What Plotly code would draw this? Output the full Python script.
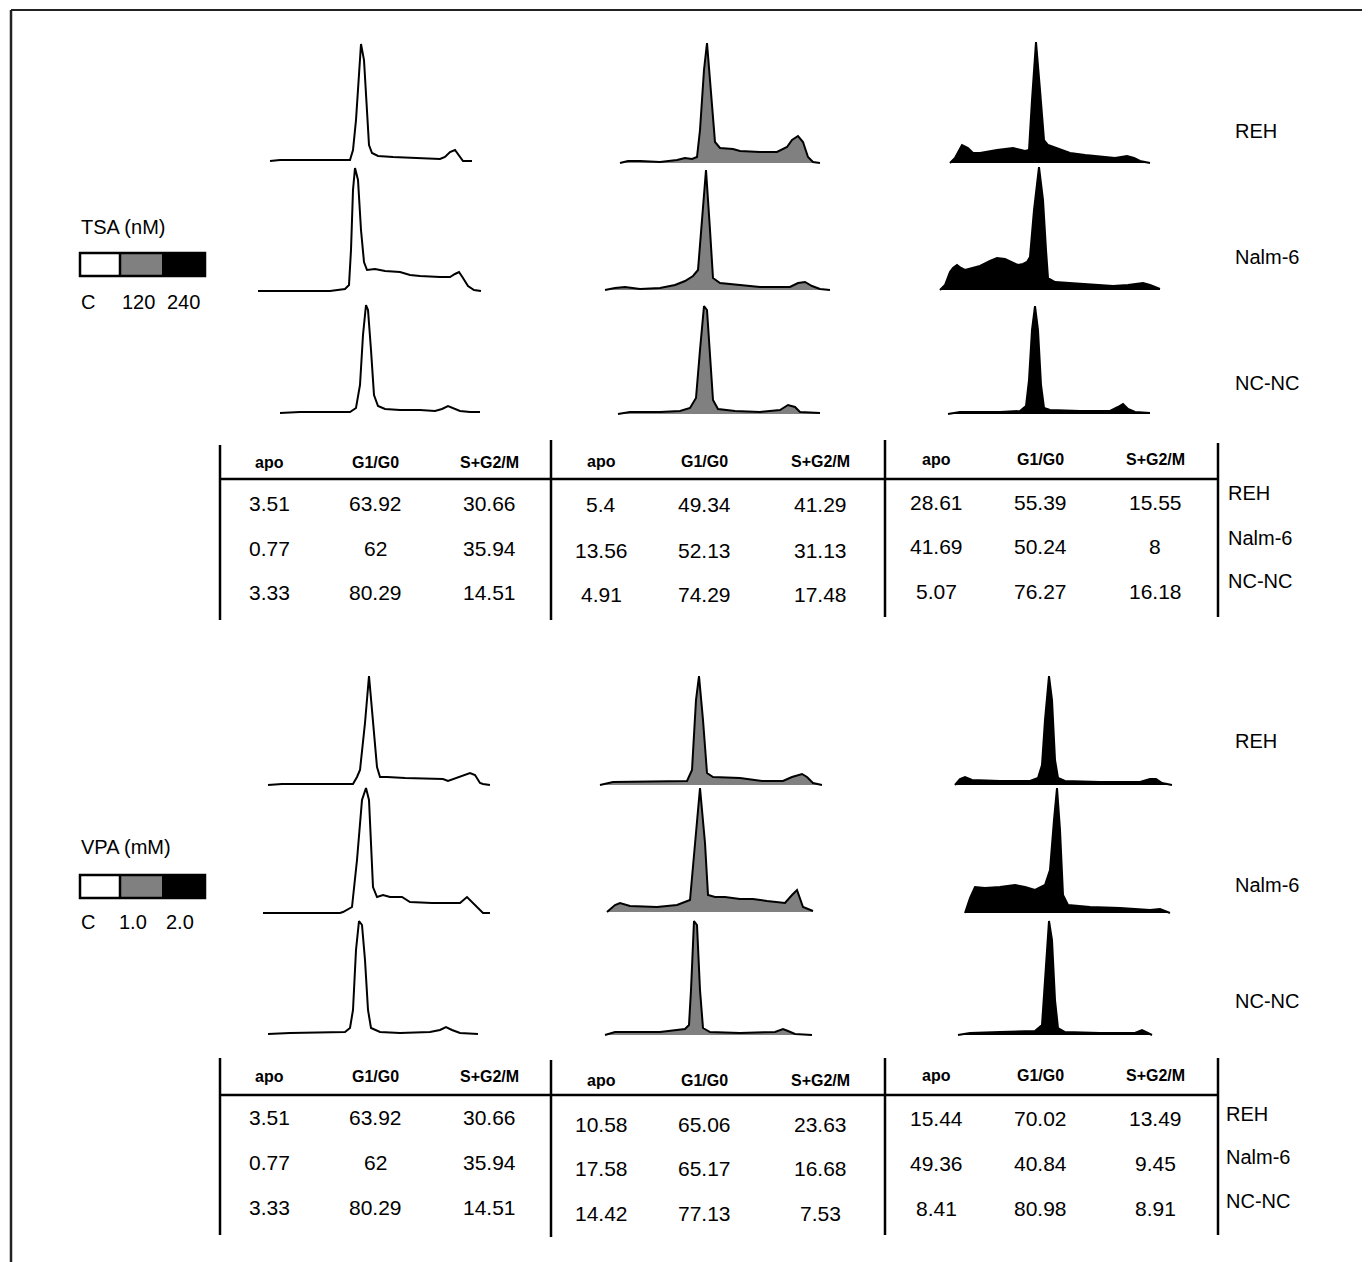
import plotly.graph_objects as go

# page body adds an 8px margin; the figure is sized/offset to fill the 1370x1262 window exactly
OFF = 8
W, H = 1370 - OFF, 1262 - OFF

# ---------------- DATA ----------------
# Flow-cytometry DNA histograms: channel offset (arbitrary units) and relative cell count
# TSA, REH
TSA_REH_C_X = [0, 10, 80, 83, 86, 89, 91, 94, 97, 99, 102, 108, 123, 160, 170, 175, 180, 185, 189, 193, 202]
TSA_REH_C_Y = [0, 1, 1, 11, 41, 91, 117, 101, 41, 16, 8, 5, 4, 3, 2, 4, 9, 11, 6, 0, 0]
TSA_REH_120_X = [0, 8, 20, 40, 57, 65, 72, 77, 80, 84, 87, 91, 95, 100, 113, 120, 140, 157, 167, 172, 178, 183, 188, 193, 200]
TSA_REH_120_Y = [0, 2, 2, 1, 3, 5, 4, 6, 33, 93, 120, 73, 21, 15, 14, 12, 11, 11, 16, 23, 27, 21, 6, 1, 0]
TSA_REH_240_X = [0, 5, 12, 18, 23, 30, 47, 63, 75, 79, 82, 86, 90, 94, 98, 107, 120, 135, 153, 165, 177, 184, 190, 200]
TSA_REH_240_Y = [0, 5, 18, 15, 10, 10, 13, 15, 12, 13, 63, 121, 73, 23, 18, 15, 10, 8, 6, 5, 7, 5, 2, 0]
# TSA, Nalm-6
TSA_NALM_C_X = [0, 72, 87, 91, 93, 95, 97, 100, 103, 106, 109, 117, 127, 142, 152, 162, 182, 192, 197, 201, 205, 210, 216, 223]
TSA_NALM_C_Y = [0, 0, 2, 6, 41, 101, 123, 111, 61, 29, 21, 22, 20, 19, 16, 15, 14, 14, 17, 19, 13, 5, 1, 0]
TSA_NALM_120_X = [0, 10, 20, 35, 55, 70, 80, 88, 93, 97, 101, 105, 108, 115, 135, 155, 185, 193, 200, 207, 215, 225]
TSA_NALM_120_Y = [0, 2, 3, 1, 2, 5, 9, 14, 20, 70, 120, 60, 12, 7, 5, 3, 3, 7, 8, 4, 1, 0]
TSA_NALM_240_X = [0, 5, 10, 13, 17, 21, 25, 32, 40, 50, 57, 65, 72, 78, 83, 87, 90, 94, 99, 103, 106, 108, 115, 130, 145, 157, 173, 188, 203, 210, 220]
TSA_NALM_240_Y = [0, 5, 18, 22, 25, 22, 20, 22, 24, 29, 32, 31, 28, 25, 26, 28, 33, 80, 123, 90, 40, 12, 8, 7, 6, 5, 4, 5, 7, 5, 1]
# TSA, NC-NC
TSA_NCNC_C_X = [0, 20, 70, 76, 80, 83, 86, 88, 91, 94, 98, 105, 120, 140, 155, 162, 168, 173, 180, 190, 200]
TSA_NCNC_C_Y = [0, 1, 1, 5, 28, 78, 108, 103, 63, 18, 7, 4, 3, 3, 2, 4, 7, 5, 2, 1, 1]
TSA_NCNC_120_X = [0, 12, 42, 62, 72, 78, 82, 86, 89, 92, 95, 100, 117, 142, 162, 170, 177, 182, 202]
TSA_NCNC_120_Y = [0, 2, 2, 3, 6, 16, 64, 108, 104, 54, 14, 5, 3, 2, 4, 9, 7, 2, 1]
TSA_NCNC_240_X = [0, 12, 52, 72, 78, 81, 84, 87, 90, 93, 96, 102, 132, 162, 170, 175, 180, 187, 202]
TSA_NCNC_240_Y = [0, 2, 2, 3, 8, 34, 84, 108, 84, 29, 6, 4, 3, 3, 7, 10, 5, 2, 1]
# VPA, REH
VPA_REH_C_X = [0, 14, 85, 89, 92, 97, 101, 105, 109, 112, 119, 137, 175, 180, 190, 202, 207, 212, 215, 222]
VPA_REH_C_Y = [0, 1, 1, 8, 15, 62, 109, 62, 18, 8, 8, 7, 6, 4, 8, 12, 10, 2, 1, 0]
VPA_REH_1_X = [0, 13, 87, 92, 96, 99, 103, 107, 113, 140, 162, 183, 192, 202, 207, 213, 222]
VPA_REH_1_Y = [0, 3, 4, 15, 85, 109, 65, 12, 8, 7, 4, 4, 8, 11, 8, 2, 0]
VPA_REH_2_X = [0, 5, 10, 17, 45, 75, 83, 87, 90, 94, 97, 100, 103, 110, 145, 185, 195, 201, 207, 217]
VPA_REH_2_Y = [0, 6, 8, 5, 4, 4, 7, 20, 65, 109, 85, 25, 7, 4, 3, 3, 6, 6, 2, 0]
# VPA, Nalm-6
VPA_NALM_C_X = [0, 77, 80, 89, 94, 99, 103, 106, 110, 114, 120, 127, 139, 147, 169, 197, 204, 209, 214, 220, 227]
VPA_NALM_C_Y = [0, 0, 1, 6, 53, 113, 125, 113, 26, 16, 18, 16, 16, 11, 10, 10, 16, 11, 5, 0, 0]
VPA_NALM_1_X = [0, 8, 13, 23, 50, 70, 83, 88, 93, 98, 101, 108, 118, 133, 146, 160, 178, 185, 190, 196, 206]
VPA_NALM_1_Y = [0, 7, 9, 6, 5, 7, 12, 69, 124, 69, 17, 15, 15, 13, 13, 11, 9, 17, 22, 5, 1]
VPA_NALM_2_X = [0, 5, 10, 20, 35, 50, 60, 70, 80, 85, 89, 92, 95, 98, 103, 125, 155, 185, 195, 205]
VPA_NALM_2_Y = [0, 15, 26, 25, 26, 28, 26, 23, 28, 43, 93, 125, 83, 18, 8, 6, 5, 3, 4, 0]
# VPA, NC-NC
VPA_NCNC_C_X = [0, 22, 77, 82, 85, 88, 91, 94, 97, 100, 103, 112, 132, 162, 172, 178, 184, 192, 210]
VPA_NCNC_C_Y = [0, 1, 2, 6, 24, 84, 113, 109, 74, 24, 6, 2, 1, 2, 4, 7, 4, 1, 0]
VPA_NCNC_1_X = [0, 10, 55, 80, 84, 86, 89, 92, 95, 98, 105, 135, 170, 178, 183, 190, 207]
VPA_NCNC_1_Y = [0, 3, 3, 6, 10, 45, 114, 110, 45, 7, 3, 2, 3, 6, 4, 1, 0]
VPA_NCNC_2_X = [0, 12, 42, 77, 84, 87, 91, 94, 97, 100, 107, 142, 177, 184, 188, 194]
VPA_NCNC_2_Y = [0, 2, 3, 4, 10, 55, 114, 95, 35, 7, 3, 2, 2, 5, 3, 0]

CELL_LINES = ["REH", "Nalm-6", "NC-NC"]
PHASES = ["apo", "G1/G0", "S+G2/M"]
TSA_DOSES = ["C", "120", "240"]
VPA_DOSES = ["C", "1.0", "2.0"]

# cell-cycle percentages (rows: REH, Nalm-6, NC-NC; cols: apo, G1/G0, S+G2/M)
TSA_C_PCT = [["3.51", "63.92", "30.66"], ["0.77", "62", "35.94"], ["3.33", "80.29", "14.51"]]
TSA_120_PCT = [["5.4", "49.34", "41.29"], ["13.56", "52.13", "31.13"], ["4.91", "74.29", "17.48"]]
TSA_240_PCT = [["28.61", "55.39", "15.55"], ["41.69", "50.24", "8"], ["5.07", "76.27", "16.18"]]
VPA_C_PCT = [["3.51", "63.92", "30.66"], ["0.77", "62", "35.94"], ["3.33", "80.29", "14.51"]]
VPA_1_PCT = [["10.58", "65.06", "23.63"], ["17.58", "65.17", "16.68"], ["14.42", "77.13", "7.53"]]
VPA_2_PCT = [["15.44", "70.02", "13.49"], ["49.36", "40.84", "9.45"], ["8.41", "80.98", "8.91"]]

# ---------------- LAYOUT ----------------
FONT = "Liberation Sans, Arial, sans-serif"
GRAY = "#808080"


def fx(x):
    return (x - OFF) / W


def fy(y):
    return 1 - (y - OFF) / H


# (x data, y data, fill, left px, baseline px)
panels = [
    (TSA_REH_C_X, TSA_REH_C_Y, None, 270, 161),
    (TSA_REH_120_X, TSA_REH_120_Y, GRAY, 620, 163),
    (TSA_REH_240_X, TSA_REH_240_Y, "#000000", 950, 163),
    (TSA_NALM_C_X, TSA_NALM_C_Y, None, 258, 291),
    (TSA_NALM_120_X, TSA_NALM_120_Y, GRAY, 605, 290),
    (TSA_NALM_240_X, TSA_NALM_240_Y, "#000000", 940, 290),
    (TSA_NCNC_C_X, TSA_NCNC_C_Y, None, 280, 413),
    (TSA_NCNC_120_X, TSA_NCNC_120_Y, GRAY, 618, 414),
    (TSA_NCNC_240_X, TSA_NCNC_240_Y, "#000000", 948, 414),
    (VPA_REH_C_X, VPA_REH_C_Y, None, 268, 785),
    (VPA_REH_1_X, VPA_REH_1_Y, GRAY, 600, 785),
    (VPA_REH_2_X, VPA_REH_2_Y, "#000000", 955, 785),
    (VPA_NALM_C_X, VPA_NALM_C_Y, None, 263, 913),
    (VPA_NALM_1_X, VPA_NALM_1_Y, GRAY, 607, 912),
    (VPA_NALM_2_X, VPA_NALM_2_Y, "#000000", 965, 913),
    (VPA_NCNC_C_X, VPA_NCNC_C_Y, None, 268, 1034),
    (VPA_NCNC_1_X, VPA_NCNC_1_Y, GRAY, 605, 1035),
    (VPA_NCNC_2_X, VPA_NCNC_2_Y, "#000000", 958, 1035),
]

fig = go.Figure()
layout_axes = {}
PAD = 3
for i, (xs, ys, fillc, L, B) in enumerate(panels):
    n = "" if i == 0 else str(i + 1)
    mx, my = max(xs), max(ys)
    layout_axes["xaxis" + n] = dict(domain=[fx(L - PAD), fx(L + mx + PAD)], range=[-PAD, mx + PAD],
                                    visible=False, fixedrange=True, anchor="y" + n)
    layout_axes["yaxis" + n] = dict(domain=[fy(B + PAD), fy(B - my - PAD)], range=[-PAD, my + PAD],
                                    visible=False, fixedrange=True, anchor="x" + n)
    kw = dict(x=xs, y=ys, mode="lines", line=dict(color="#000000", width=2),
              xaxis="x" + n, yaxis="y" + n, hoverinfo="skip", showlegend=False)
    if fillc:
        kw.update(fill="tozeroy", fillcolor=fillc)
    fig.add_trace(go.Scatter(**kw))

annotations = []
shapes = []


def text(x, y, s, size=20, bold=False, anchor="center"):
    annotations.append(dict(x=fx(x), y=fy(y), xref="paper", yref="paper", text=("<b>%s</b>" % s) if bold else s,
                            showarrow=False, xanchor=anchor, yanchor="middle",
                            font=dict(family=FONT, size=size, color="#000000")))


def line(x0, y0, x1, y1, width=2.5, color="#000000"):
    shapes.append(dict(type="line", xref="paper", yref="paper", x0=fx(x0), y0=fy(y0), x1=fx(x1), y1=fy(y1),
                       line=dict(color=color, width=width)))


def rect(x0, y0, x1, y1, fill, lw=0, lc="#000000"):
    shapes.append(dict(type="rect", xref="paper", yref="paper", x0=fx(x0), y0=fy(y0), x1=fx(x1), y1=fy(y1),
                       fillcolor=fill, line=dict(color=lc, width=lw)))


# frame
line(11, 10, 1363, 10, 2, "#222222")
line(11, 10, 11, 1262, 2.5, "#222222")
line(1363, 10, 1363, 1262, 2, "#444444")

# histogram row labels
for lbl, y in zip(CELL_LINES, [131, 257, 383]):
    text(1233, y, lbl, 20, anchor="left")
for lbl, y in zip(CELL_LINES, [741, 885, 1001]):
    text(1233, y, lbl, 20, anchor="left")


# legends
def legend(title, y_title, y_box, y_lbl, doses, lbl_x):
    text(79, y_title, title, 20, anchor="left")
    rect(120, y_box, 162, y_box + 23, GRAY)
    rect(162, y_box, 205, y_box + 23, "#000000")
    rect(80, y_box, 205, y_box + 23, "rgba(0,0,0,0)", 2.5)
    line(120, y_box, 120, y_box + 23, 2.5)
    for d, x in zip(doses, lbl_x):
        text(x, y_lbl, d, 20)


legend("TSA (nM)", 227, 253, 302, TSA_DOSES, [88, 138, 183])
legend("VPA (mM)", 847, 875, 922, VPA_DOSES, [88, 133, 180])

# tables
COL_X = [[269, 375, 489], [601, 704, 820], [936, 1040, 1155]]


def table(blocks, head_y, row_y, hline_y, vlines, lbl_x, lbl_y):
    for b, pct in enumerate(blocks):
        for c in range(3):
            text(COL_X[b][c], head_y[b], PHASES[c], 16, bold=True)
            for r in range(3):
                text(COL_X[b][c], row_y[b][r], pct[r][c], 21)
    line(220, hline_y, 1218, hline_y, 2.5)
    for x, y0, y1 in vlines:
        line(x, y0, x, y1, 2.5)
    for lbl, y in zip(CELL_LINES, lbl_y):
        text(lbl_x, y, lbl, 20, anchor="left")


table([TSA_C_PCT, TSA_120_PCT, TSA_240_PCT], [462, 461, 459],
      [[503, 548, 593], [505, 550, 594], [502, 546, 591]], 479,
      [(220, 445, 620), (551, 440, 620), (885, 440, 617), (1218, 443, 617)],
      1226, [493, 538, 581])
table([VPA_C_PCT, VPA_1_PCT, VPA_2_PCT], [1076, 1080, 1075],
      [[1117, 1162, 1207], [1124, 1168, 1213], [1118, 1163, 1208]], 1095,
      [(220, 1058, 1235), (551, 1060, 1237), (885, 1058, 1235), (1218, 1058, 1235)],
      1224, [1114, 1157, 1201])

fig.update_layout(width=W, height=H, margin=dict(l=0, r=0, t=0, b=0), paper_bgcolor="white",
                  plot_bgcolor="rgba(0,0,0,0)", showlegend=False, annotations=annotations, shapes=shapes,
                  **layout_axes)
fig.write_html("out.html", config={"displayModeBar": False})
